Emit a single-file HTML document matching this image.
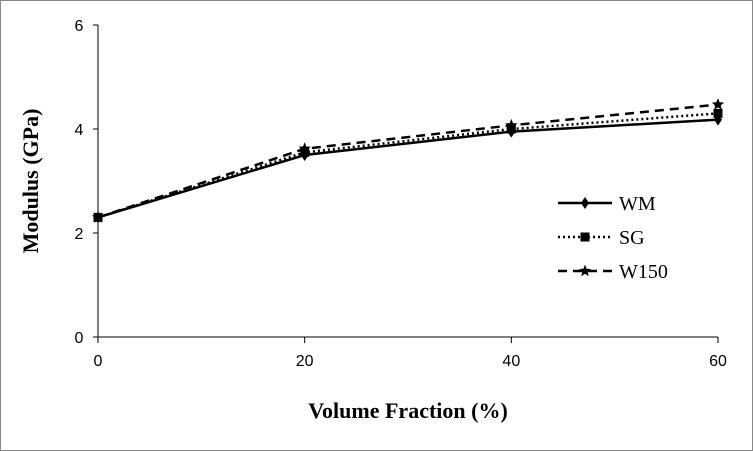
<!DOCTYPE html>
<html><head><meta charset="utf-8"><style>
html,body{margin:0;padding:0;background:#fff}
svg{display:block}
text{font-family:"Liberation Serif",serif;fill:#000}
.tick{font-family:"Liberation Sans",sans-serif;font-size:16px}
</style></head><body>
<svg width="753" height="451">
<rect x="0.5" y="0.5" width="752" height="450" fill="#fff" stroke="#888"/>
<g id="axes"></g>
<g id="series"></g>
<text x="38" y="181" font-size="22" font-weight="bold" text-anchor="middle" transform="rotate(-90 38 181)">Modulus (GPa)</text>
<text x="408" y="418" font-size="22" font-weight="bold" text-anchor="middle">Volume Fraction (%)</text>
<g id="legend"></g>
</svg>
<script>
const categories=[0,20,40,60];
const wm=[2.3,3.5,3.95,4.18];
const sg=[2.3,3.55,4.0,4.3];
const w150=[2.3,3.62,4.07,4.47];
const xTicks=[0,20,40,60];
const yTicks=[0,2,4,6];
const NS="http://www.w3.org/2000/svg";
const X=v=>98+(v/60)*620;
const Y=v=>337-v*52;
function mk(tag,attrs,parent){const e=document.createElementNS(NS,tag);for(const k in attrs)e.setAttribute(k,attrs[k]);parent.appendChild(e);return e;}
const axes=document.getElementById('axes');
let a=mk('line',{x1:98,y1:Y(6),x2:98,y2:337,stroke:'#000','stroke-width':1},axes);


a=mk('line',{x1:98,y1:337,x2:718,y2:337,stroke:'#000','stroke-width':1},axes);


yTicks.forEach(t=>{
 mk('line',{x1:93,y1:Y(t),x2:98,y2:Y(t),stroke:'#000'},axes);
 const tx=mk('text',{x:79,y:Y(t)+6,class:'tick','text-anchor':'middle'},axes);tx.textContent=t;
 
 
});
xTicks.forEach(t=>{
 mk('line',{x1:X(t),y1:337,x2:X(t),y2:343,stroke:'#000'},axes);
 const tx=mk('text',{x:X(t),y:366,class:'tick','text-anchor':'middle'},axes);tx.textContent=t;
 
 
});
function marker(type,x,y,g){
 if(type==='d')return mk('polygon',{points:`${x},${y-6} ${x+4},${y} ${x},${y+6} ${x-4},${y}`,fill:'#000'},g);
 if(type==='s')return mk('rect',{x:x-4.5,y:y-4.5,width:9,height:9,fill:'#000'},g);
 let p=[];for(let i=0;i<10;i++){const r=i%2?2.8:6.5,ang=-Math.PI/2+i*Math.PI/5;p.push((x+r*Math.cos(ang)).toFixed(1)+','+(y+r*Math.sin(ang)).toFixed(1));}
 return mk('polygon',{points:p.join(' '),fill:'#000'},g);
}
const defs=[['wm',wm,'','d','WM'],['sg',sg,'2 3','s','SG'],['w150',w150,'9 6','t','W150']];
const sgrp=document.getElementById('series');
defs.slice().reverse().forEach(([n,vals,dash,m])=>{
 const g=mk('g',{},sgrp);
 
 
 const l=mk('polyline',{points:vals.map((v,i)=>X(categories[i])+','+Y(v)).join(' '),fill:'none',stroke:'#000','stroke-width':2.5,'stroke-dasharray':dash},g);
 
 
 vals.forEach((v,i)=>{const p=marker(m,X(categories[i]),Y(v),g);
  
  });
});
const lg=document.getElementById('legend');


defs.forEach(([n,vals,dash,m,label],i)=>{
 const y=203+i*34;
 const g=mk('g',{},lg);
 
 
 mk('line',{x1:558,y1:y,x2:612,y2:y,stroke:'#000','stroke-width':2.5,'stroke-dasharray':dash},g);
 marker(m,585,y,g);
 const t=mk('text',{x:619,y:y+7,'font-size':20},g);t.textContent=label;
});
</script>
</body></html>
